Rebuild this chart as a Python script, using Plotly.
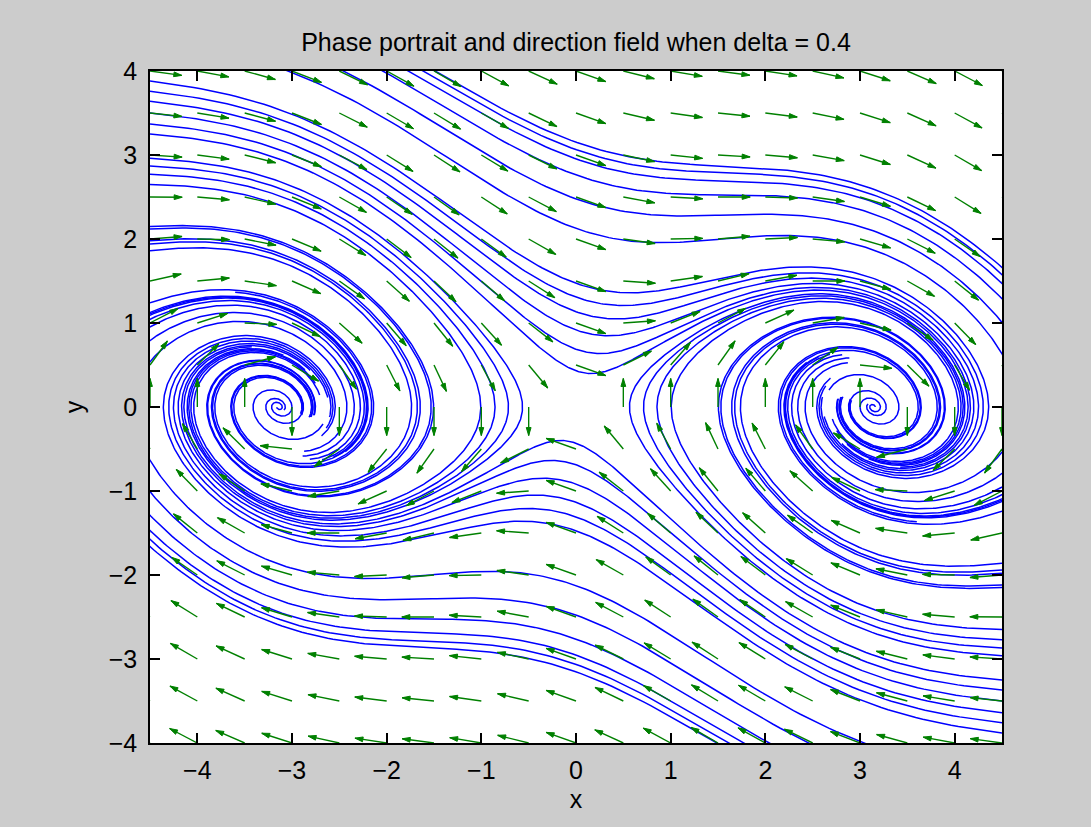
import numpy as np
import plotly.graph_objects as go

# ---- model / data ----
delta = 0.4
x_limits = [-4.5, 4.5]
y_limits = [-4.0, 4.0]
quiver_x = np.arange(-4.5, 4.5001, 0.5)
quiver_y = np.arange(-4.0, 4.0001, 0.5)
x_ticks = [-4, -3, -2, -1, 0, 1, 2, 3, 4]
y_ticks = [-4, -3, -2, -1, 0, 1, 2, 3, 4]
left_seed_y = [5.3, 5.22, 5.12, 4.95, 4.7, 4.4, 3.88, 3.76, 3.64, 3.50, 3.37, 3.25, 2.96, 2.87,
               2.77, 2.65, 2.15, 2.12, 1.98, 1.94, 1.86, 1.24, 1.11]
right_seed_y = [-v for v in left_seed_y]
interior_seeds = [(-3.0, 0.0), (3.0, 0.0), (-3.5, 0.3), (3.5, -0.3)]
T_forward = 9.5
T_backward = 6.0

FONT = "Liberation Sans, Arial, sans-serif"


def field(x, y):
    return y, np.sin(x) - delta * y


def integrate(x0, y0, T, dt):
    xs, ys = [x0], [y0]
    x, y = x0, y0
    n = int(abs(T) / abs(dt))
    for _ in range(n):
        k1 = field(x, y)
        k2 = field(x + dt / 2 * k1[0], y + dt / 2 * k1[1])
        k3 = field(x + dt / 2 * k2[0], y + dt / 2 * k2[1])
        k4 = field(x + dt * k3[0], y + dt * k3[1])
        x = x + dt / 6 * (k1[0] + 2 * k2[0] + 2 * k3[0] + k4[0])
        y = y + dt / 6 * (k1[1] + 2 * k2[1] + 2 * k3[1] + k4[1])
        xs.append(x)
        ys.append(y)
        if abs(x) > 7.5 or abs(y) > 5.6:
            break
    return xs, ys


lx, ly = [], []
seeds = [(-4.5, v) for v in left_seed_y] + [(4.5, v) for v in right_seed_y]
for (a, b) in seeds:
    xs, ys = integrate(a, b, T_forward, 0.02)
    lx += xs + [None]
    ly += ys + [None]
for (a, b) in interior_seeds:
    for T, dt in [(T_forward, 0.02), (T_backward, -0.02)]:
        xs, ys = integrate(a, b, T, dt)
        lx += xs + [None]
        ly += ys + [None]

# ---- direction field ----
L = 0.34
px_per_x = 852 / 9.0
px_per_y = 672 / 8.0
ax_, ay_, hx, hy = [], [], [], []
for yv in quiver_y:
    for xv in quiver_x:
        u, v = field(xv, yv)
        n = np.hypot(u, v)
        if n == 0:
            ax_ += [xv, None]
            ay_ += [yv, None]
            continue
        u, v = u / n, v / n
        tx, ty = xv + L * u, yv + L * v
        ax_ += [xv, tx, None]
        ay_ += [yv, ty, None]
        dxp, dyp = L * u * px_per_x, L * v * px_per_y
        lp = np.hypot(dxp, dyp)
        ux, uy = dxp / lp, dyp / lp
        hl, hw = 8.0, 2.4
        bx, by = -ux * hl, -uy * hl
        p1 = (bx - uy * hw, by + ux * hw)
        p2 = (bx + uy * hw, by - ux * hw)
        hx += [tx, tx + p1[0] / px_per_x, tx + p2[0] / px_per_x, tx, None]
        hy += [ty, ty + p1[1] / px_per_y, ty + p2[1] / px_per_y, ty, None]

fig = go.Figure()
fig.add_trace(go.Scatter(x=lx, y=ly, mode="lines", line=dict(color="#0000ff", width=1.5),
                         hoverinfo="skip", showlegend=False))
fig.add_trace(go.Scatter(x=ax_, y=ay_, mode="lines", line=dict(color="#008000", width=1.4),
                         hoverinfo="skip", showlegend=False))
fig.add_trace(go.Scatter(x=hx, y=hy, mode="lines", fill="toself", fillcolor="#008000",
                         line=dict(color="#008000", width=1), hoverinfo="skip", showlegend=False))

axis_common = dict(showgrid=False, zeroline=False, showline=True, linecolor="black", linewidth=1.5,
                   mirror="ticks", ticks="inside", ticklen=10, tickcolor="black", tickwidth=1.5,
                   tickfont=dict(family=FONT, size=25, color="black"))
fig.update_layout(
    width=1091, height=827,
    margin=dict(l=150, r=89, t=71, b=84),
    paper_bgcolor="#cccccc", plot_bgcolor="white",
    title=dict(text="Phase portrait and direction field when delta = 0.4", x=(150 + 1002) / 2 / 1091,
               xanchor="center", y=1 - 42 / 827, yanchor="middle",
               font=dict(family=FONT, size=25, color="black")),
    xaxis=dict(range=x_limits, tickvals=x_ticks, ticklabelstandoff=4,
               title=dict(text="x", standoff=8, font=dict(family=FONT, size=25, color="black")),
               **axis_common),
    yaxis=dict(range=y_limits, tickvals=y_ticks, ticklabelstandoff=6,
               title=dict(text="y", standoff=18, font=dict(family=FONT, size=25, color="black")),
               **axis_common),
)
fig.write_html("out.html")
